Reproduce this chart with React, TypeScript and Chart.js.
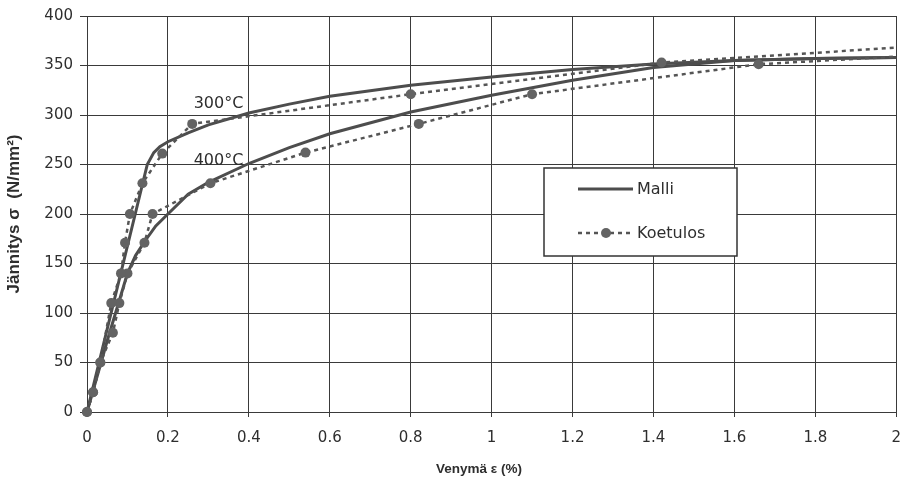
import React, { useEffect, useRef } from "react";
import { Chart, registerables } from "chart.js";

Chart.register(...registerables);

// Model (Malli) curves
const model300X = [0, 0.149, 0.165, 0.18, 0.2, 0.25, 0.3, 0.4, 0.5, 0.6, 0.8, 1.0, 1.2, 1.4, 1.6, 1.8, 2.0];
const model300Y = [0, 250, 262, 268, 273, 282, 290, 302, 311, 319, 330, 338.5, 346, 351.5, 355, 357, 358];

const model400X = [0, 0.05, 0.1, 0.12, 0.142, 0.17, 0.2, 0.25, 0.3, 0.4, 0.5, 0.6, 0.8, 1.0, 1.2, 1.4, 1.6, 1.8, 2.0];
const model400Y = [0, 72, 140, 158, 172, 188, 200, 220, 232, 251, 267, 281, 303, 320, 335, 348, 355, 357, 358];

// Test results (Koetulos)
const test300X = [0, 0.015, 0.033, 0.06, 0.084, 0.094, 0.106, 0.137, 0.186, 0.26, 0.8, 1.42, 2.0];
const test300Y = [0, 20, 50, 110, 140, 171, 200, 231, 261, 291, 321, 353, 368];

const test400X = [0, 0.015, 0.033, 0.064, 0.08, 0.1, 0.142, 0.162, 0.305, 0.54, 0.82, 1.1, 1.66, 2.0];
const test400Y = [0, 20, 50, 80, 110, 140, 171, 200, 231, 262, 291, 321, 351.3, 359];

const seriesLabels = ["Malli", "Koetulos"];
const curveLabels = ["300°C", "400°C"];
const xTitle = "Venymä ε (%)";
const yTitle = "Jännitys σ  (N/mm²)";

const LINE = "#4d4d4d";
const DOT = "#555555";
const MARK = "#636363";
const GRID = "#3a3a3a";
const TEXT = "#2e2e2e";

const toPts = (xs: number[], ys: number[]) => xs.map((x, i) => ({ x, y: ys[i] }));

export default function App() {
  const ref = useRef<HTMLCanvasElement | null>(null);

  useEffect(() => {
    document.body.style.margin = "0";
    const canvas = ref.current;
    if (!canvas) return;

    const overlay = {
      id: "overlay",
      afterDraw(chart: any) {
        const ctx = chart.ctx;
        const xs = chart.scales.x;
        const ys = chart.scales.y;
        const ca = chart.chartArea;
        ctx.save();
        // curve labels
        ctx.fillStyle = TEXT;
        ctx.font = "16px 'DejaVu Sans'";
        ctx.textAlign = "center";
        ctx.textBaseline = "middle";
        ctx.fillText(curveLabels[0], xs.getPixelForValue(0.325), ys.getPixelForValue(311));
        ctx.fillText(curveLabels[1], xs.getPixelForValue(0.325), ys.getPixelForValue(254));

        // axis titles
        ctx.font = "bold 13.5px 'Liberation Sans'";
        ctx.fillText(xTitle, ca.left + 392, ca.bottom + 57);
        ctx.save();
        ctx.translate(ca.left - 73, ca.top + 198);
        ctx.rotate(-Math.PI / 2);
        ctx.font = "bold 17px 'Liberation Sans'";
        ctx.fillText(yTitle, 0, 0);
        ctx.restore();

        // legend box
        const bl = ca.left + 457;
        const bt = ca.top + 152;
        const bw = 193;
        const bh = 88;
        ctx.fillStyle = "#ffffff";
        ctx.fillRect(bl, bt, bw, bh);
        ctx.strokeStyle = "#333";
        ctx.lineWidth = 1.5;
        ctx.strokeRect(bl, bt, bw, bh);

        // solid sample
        ctx.strokeStyle = LINE;
        ctx.lineWidth = 3;
        ctx.setLineDash([]);
        ctx.beginPath();
        ctx.moveTo(bl + 34, bt + 21);
        ctx.lineTo(bl + 89, bt + 21);
        ctx.stroke();

        // dotted sample
        ctx.strokeStyle = DOT;
        ctx.lineWidth = 2.5;
        ctx.setLineDash([4, 4]);
        ctx.beginPath();
        ctx.moveTo(bl + 34, bt + 65);
        ctx.lineTo(bl + 89, bt + 65);
        ctx.stroke();
        ctx.setLineDash([]);
        ctx.fillStyle = MARK;
        ctx.beginPath();
        ctx.arc(bl + 62, bt + 65, 5, 0, Math.PI * 2);
        ctx.fill();

        ctx.fillStyle = TEXT;
        ctx.font = "16px 'DejaVu Sans'";
        ctx.textAlign = "left";
        ctx.textBaseline = "middle";
        ctx.fillText(seriesLabels[0], bl + 93, bt + 22);
        ctx.fillText(seriesLabels[1], bl + 93, bt + 66);
        ctx.restore();
      },
    };

    const solid = (data: any[]) => ({
      data,
      showLine: true,
      borderColor: LINE,
      borderWidth: 3,
      pointRadius: 0,
      tension: 0,
      clip: false,
    });
    const dotted = (data: any[]) => ({
      data,
      showLine: true,
      borderColor: DOT,
      borderWidth: 2.5,
      borderDash: [4, 4],
      pointRadius: data.map((_: any, i: number) => (i === data.length - 1 ? 0 : 5)),
      pointBackgroundColor: MARK,
      pointBorderWidth: 0,
      pointBorderColor: MARK,
      tension: 0,
      clip: false,
    });

    const chart = new Chart(canvas, {
      type: "scatter",
      data: {
        datasets: [
          { ...dotted(toPts(test300X, test300Y)), label: "Koetulos 300" },
          { ...dotted(toPts(test400X, test400Y)), label: "Koetulos 400" },
          { ...solid(toPts(model300X, model300Y)), label: "Malli 300" },
          { ...solid(toPts(model400X, model400Y)), label: "Malli 400" },
        ] as any,
      },
      options: {
        animation: false,
        responsive: false,
        layout: { padding: { left: 0, right: 10, top: 12, bottom: 0 } },
        plugins: { legend: { display: false }, tooltip: { enabled: false } },
        scales: {
          x: {
            type: "linear",
            min: 0,
            max: 2,
            afterFit: (s: any) => {
              s.height = 72;
            },
            grid: { color: GRID, lineWidth: 1, tickLength: 5 },
            border: { color: GRID, width: 1 },
            ticks: {
              stepSize: 0.2,
              padding: 12,
              color: TEXT,
              font: { family: "'DejaVu Sans'", size: 15 },
              callback: (v: any) => String(Number(Number(v).toFixed(1))),
            },
            title: { display: false, text: xTitle },
          },
          y: {
            type: "linear",
            min: 0,
            max: 400,
            afterFit: (s: any) => {
              s.width = 87;
            },
            grid: { color: GRID, lineWidth: 1, tickLength: 7 },
            border: { color: GRID, width: 1 },
            ticks: {
              stepSize: 50,
              padding: 7,
              color: TEXT,
              font: { family: "'DejaVu Sans'", size: 15 },
            },
            title: { display: false, text: yTitle },
          },
        },
      },
      plugins: [overlay],
    });

    return () => chart.destroy();
  }, []);

  return (
    <div style={{ width: 913, height: 484, position: "relative" }}>
      <canvas ref={ref} width={913} height={484} style={{ display: "block" }} />
    </div>
  );
}
